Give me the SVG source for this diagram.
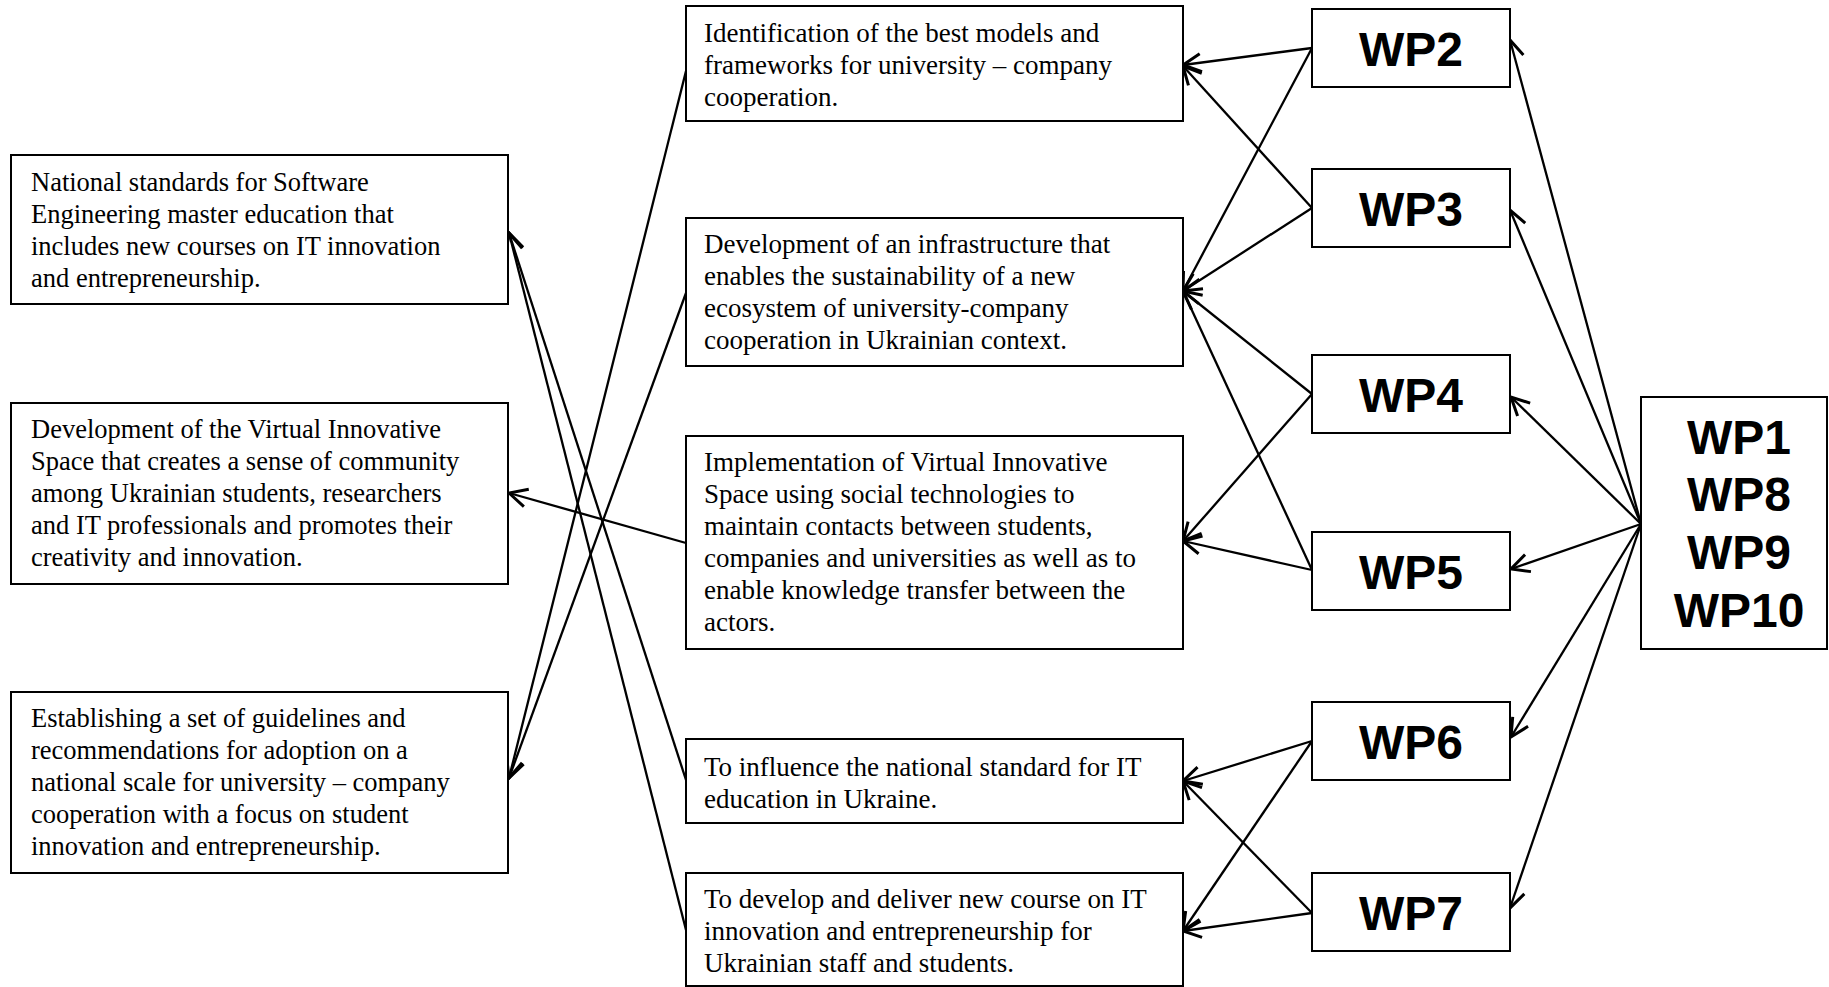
<svg xmlns="http://www.w3.org/2000/svg" width="1829" height="987" viewBox="0 0 1829 987">
<style>
.box{fill:#fff;stroke:#000;stroke-width:2}
.t{font-family:"Liberation Serif","Times New Roman",serif;font-size:26.5px;fill:#000}
.tm{font-family:"Liberation Serif","Times New Roman",serif;font-size:27px;fill:#000}
.wp{font-family:"Liberation Sans",Arial,sans-serif;font-size:48px;font-weight:bold;fill:#000;text-anchor:middle}
.c line{stroke:#000;stroke-width:2.3;marker-end:url(#ah)}
</style>
<defs>
<marker id="ah" viewBox="0 0 22 22" refX="20" refY="11" markerWidth="22" markerHeight="22" markerUnits="userSpaceOnUse" orient="auto">
<path d="M2,2 L20,11 L2,20" fill="none" stroke="#000" stroke-width="3"/>
</marker>
</defs>
<rect width="1829" height="987" fill="#fff"/>
<g id="connectors" class="c">
<line x1="1312" y1="48" x2="1183" y2="65"/>
<line x1="1312" y1="48" x2="1183" y2="291"/>
<line x1="1312" y1="208" x2="1183" y2="66"/>
<line x1="1312" y1="208" x2="1183" y2="291"/>
<line x1="1312" y1="394" x2="1183" y2="291"/>
<line x1="1312" y1="394" x2="1183" y2="541"/>
<line x1="1312" y1="570" x2="1183" y2="291"/>
<line x1="1312" y1="570" x2="1183" y2="541"/>
<line x1="1312" y1="741" x2="1183" y2="781"/>
<line x1="1312" y1="741" x2="1183" y2="931"/>
<line x1="1312" y1="913" x2="1183" y2="781"/>
<line x1="1312" y1="913" x2="1183" y2="931"/>
<line x1="1641" y1="524" x2="1510" y2="40"/>
<line x1="1641" y1="524" x2="1510" y2="210"/>
<line x1="1641" y1="524" x2="1511" y2="397"/>
<line x1="1641" y1="524" x2="1511" y2="569"/>
<line x1="1641" y1="524" x2="1511" y2="737"/>
<line x1="1641" y1="524" x2="1510" y2="908"/>
<line x1="686" y1="71" x2="509" y2="778"/>
<line x1="686" y1="293" x2="509" y2="778"/>
<line x1="686" y1="543" x2="509" y2="493"/>
<line x1="686" y1="780" x2="509" y2="233"/>
<line x1="686" y1="930" x2="509" y2="233"/>
</g>
<g id="L1">
<rect class="box" x="11" y="155" width="497" height="149"/>
<text class="t"><tspan x="31" y="191">National standards for Software</tspan><tspan x="31" y="223">Engineering master education that</tspan><tspan x="31" y="255">includes new courses on IT innovation</tspan><tspan x="31" y="287">and entrepreneurship.</tspan></text>
</g>
<g id="L2">
<rect class="box" x="11" y="403" width="497" height="181"/>
<text class="t"><tspan x="31" y="438">Development of the Virtual Innovative</tspan><tspan x="31" y="470">Space that creates a sense of community</tspan><tspan x="31" y="502">among Ukrainian students, researchers</tspan><tspan x="31" y="534">and IT professionals and promotes their</tspan><tspan x="31" y="566">creativity and innovation.</tspan></text>
</g>
<g id="L3">
<rect class="box" x="11" y="692" width="497" height="181"/>
<text class="t"><tspan x="31" y="727">Establishing a set of guidelines and</tspan><tspan x="31" y="759">recommendations for adoption on a</tspan><tspan x="31" y="791">national scale for university – company</tspan><tspan x="31" y="823">cooperation with a focus on student</tspan><tspan x="31" y="855">innovation and entrepreneurship.</tspan></text>
</g>
<g id="M1">
<rect class="box" x="686" y="6" width="497" height="115"/>
<text class="tm"><tspan x="704" y="42">Identification of the best models and</tspan><tspan x="704" y="74">frameworks for university – company</tspan><tspan x="704" y="106">cooperation.</tspan></text>
</g>
<g id="M2">
<rect class="box" x="686" y="218" width="497" height="148"/>
<text class="tm"><tspan x="704" y="253">Development of an infrastructure that</tspan><tspan x="704" y="285">enables the sustainability of a new</tspan><tspan x="704" y="317">ecosystem of university-company</tspan><tspan x="704" y="349">cooperation in Ukrainian context.</tspan></text>
</g>
<g id="M3">
<rect class="box" x="686" y="436" width="497" height="213"/>
<text class="tm"><tspan x="704" y="471">Implementation of Virtual Innovative</tspan><tspan x="704" y="503">Space using social technologies to</tspan><tspan x="704" y="535">maintain contacts between students,</tspan><tspan x="704" y="567">companies and universities as well as to</tspan><tspan x="704" y="599">enable knowledge transfer between the</tspan><tspan x="704" y="631">actors.</tspan></text>
</g>
<g id="M4">
<rect class="box" x="686" y="739" width="497" height="84"/>
<text class="tm"><tspan x="704" y="776">To influence the national standard for IT</tspan><tspan x="704" y="808">education in Ukraine.</tspan></text>
</g>
<g id="M5">
<rect class="box" x="686" y="873" width="497" height="113"/>
<text class="tm"><tspan x="704" y="908">To develop and deliver new course on IT</tspan><tspan x="704" y="940">innovation and entrepreneurship for</tspan><tspan x="704" y="972">Ukrainian staff and students.</tspan></text>
</g>
<g id="WP2"><rect class="box" x="1312" y="9" width="198" height="78"/><text class="wp" x="1411" y="66">WP2</text></g>
<g id="WP3"><rect class="box" x="1312" y="169" width="198" height="78"/><text class="wp" x="1411" y="226">WP3</text></g>
<g id="WP4"><rect class="box" x="1312" y="355" width="198" height="78"/><text class="wp" x="1411" y="412">WP4</text></g>
<g id="WP5"><rect class="box" x="1312" y="532" width="198" height="78"/><text class="wp" x="1411" y="589">WP5</text></g>
<g id="WP6"><rect class="box" x="1312" y="702" width="198" height="78"/><text class="wp" x="1411" y="759">WP6</text></g>
<g id="WP7"><rect class="box" x="1312" y="873" width="198" height="78"/><text class="wp" x="1411" y="930">WP7</text></g>
<g id="WP1">
<rect class="box" x="1641" y="397" width="186" height="252"/>
<text class="wp"><tspan x="1739" y="454">WP1</tspan><tspan x="1739" y="511">WP8</tspan><tspan x="1739" y="569">WP9</tspan><tspan x="1739" y="627">WP10</tspan></text>
</g>
</svg>
